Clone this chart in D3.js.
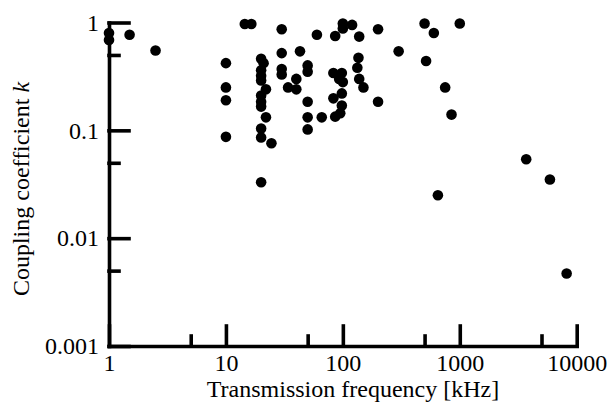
<!DOCTYPE html>
<html>
<head>
<meta charset="utf-8">
<script src="https://cdn.jsdelivr.net/npm/d3@7.9.0/dist/d3.min.js"></script>
<style>
  html, body { margin: 0; padding: 0; background: #fff; }
  svg text { font-family: "Liberation Serif", "Times New Roman"; fill: #000; }
</style>
</head>
<body>
<svg id="chart" width="613" height="403"></svg>
<script>
// transmission frequency (kHz) and coupling coefficient k
const freqKHz = [
  1, 1, 1.5, 2.5, 14.5, 16.5, 30, 10, 10, 10,
  10, 20, 21, 20, 20, 20, 22, 20, 20, 20,
  22, 20, 20, 24.5, 20, 30, 43, 30, 30, 50,
  50, 40, 34, 40, 50, 50, 50, 66, 100, 100,
  120, 60, 86, 138, 200, 300, 136, 133, 138, 150,
  83, 98, 93, 100, 98, 83, 98, 200, 86, 95,
  500, 600, 1000, 515, 750, 850, 650, 3700, 5900, 8200
];
const couplingK = [
  0.80, 0.69, 0.77, 0.55, 0.97, 0.97, 0.865, 0.42, 0.25, 0.19,
  0.087, 0.46, 0.42, 0.36, 0.32, 0.29, 0.24, 0.21, 0.184, 0.166,
  0.132, 0.104, 0.086, 0.076, 0.033, 0.52, 0.54, 0.37, 0.33, 0.40,
  0.35, 0.30, 0.25, 0.24, 0.184, 0.132, 0.102, 0.132, 0.98, 0.88,
  0.95, 0.77, 0.75, 0.74, 0.865, 0.54, 0.47, 0.38, 0.30, 0.25,
  0.34, 0.34, 0.30, 0.28, 0.22, 0.198, 0.17, 0.184, 0.134, 0.144,
  0.98, 0.80, 0.98, 0.44, 0.25, 0.14, 0.025, 0.054, 0.035, 0.0047
];

const xMajor = [1, 10, 100, 1000, 10000];
const xMinor = [5, 50, 500, 5000];
const yMajor = [0.001, 0.01, 0.1, 1];
const yMinor = [0.005, 0.05, 0.5];
const xLabels = ['1', '10', '100', '1000', '10000'];
const yLabels = ['0.001', '0.01', '0.1', '1'];

const FONT = '"Liberation Serif", "Times New Roman"';

const svg = d3.select('#chart');

const x = d3.scaleLog().domain([1, 10000]).range([109, 576.7]);
const y = d3.scaleLog().domain([0.001, 1]).range([346, 22.5]);

const points = freqKHz.map((f, i) => ({ f, k: couplingK[i] }));

// ---- points ----
svg.append('g')
  .selectAll('circle')
  .data(points)
  .join('circle')
  .attr('cx', d => x(d.f))
  .attr('cy', d => y(d.k))
  .attr('r', 5.3)
  .attr('fill', '#000');

// ---- axes ----
const axisW = 3.6;

const gx = svg.append('g').attr('transform', 'translate(0,346)');
gx.call(d3.axisBottom(x).tickValues(xMajor).tickSize(-20).tickSizeOuter(0)
  .tickPadding(8).tickFormat((d, i) => xLabels[i]));
gx.append('g').call(d3.axisBottom(x).tickValues(xMinor).tickSize(-10).tickFormat(''))
  .select('.domain').remove();

const gy = svg.append('g').attr('transform', 'translate(109,0)');
gy.call(d3.axisLeft(y).tickValues(yMajor).tickSize(-20).tickSizeOuter(0)
  .tickPadding(10).tickFormat((d, i) => yLabels[i]));
gy.append('g').call(d3.axisLeft(y).tickValues(yMinor).tickSize(-10).tickFormat(''))
  .select('.domain').remove();

svg.selectAll('g').attr('font-family', FONT);

svg.selectAll('.domain, .tick line')
  .attr('stroke', '#000')
  .attr('stroke-width', axisW)
  .attr('stroke-linecap', 'square');

svg.selectAll('.tick text')
  .attr('font-size', 24)
  .attr('fill', '#000');

// ---- axis titles ----
svg.append('text')
  .attr('x', 353)
  .attr('y', 397)
  .attr('text-anchor', 'middle')
  .attr('font-size', 24)
  .text('Transmission frequency [kHz]');

const yt = svg.append('text')
  .attr('transform', 'translate(29,189) rotate(-90)')
  .attr('text-anchor', 'middle')
  .attr('font-size', 24);
yt.append('tspan').text('Coupling coefficient ');
yt.append('tspan').attr('font-style', 'italic').text('k');
</script>
</body>
</html>
